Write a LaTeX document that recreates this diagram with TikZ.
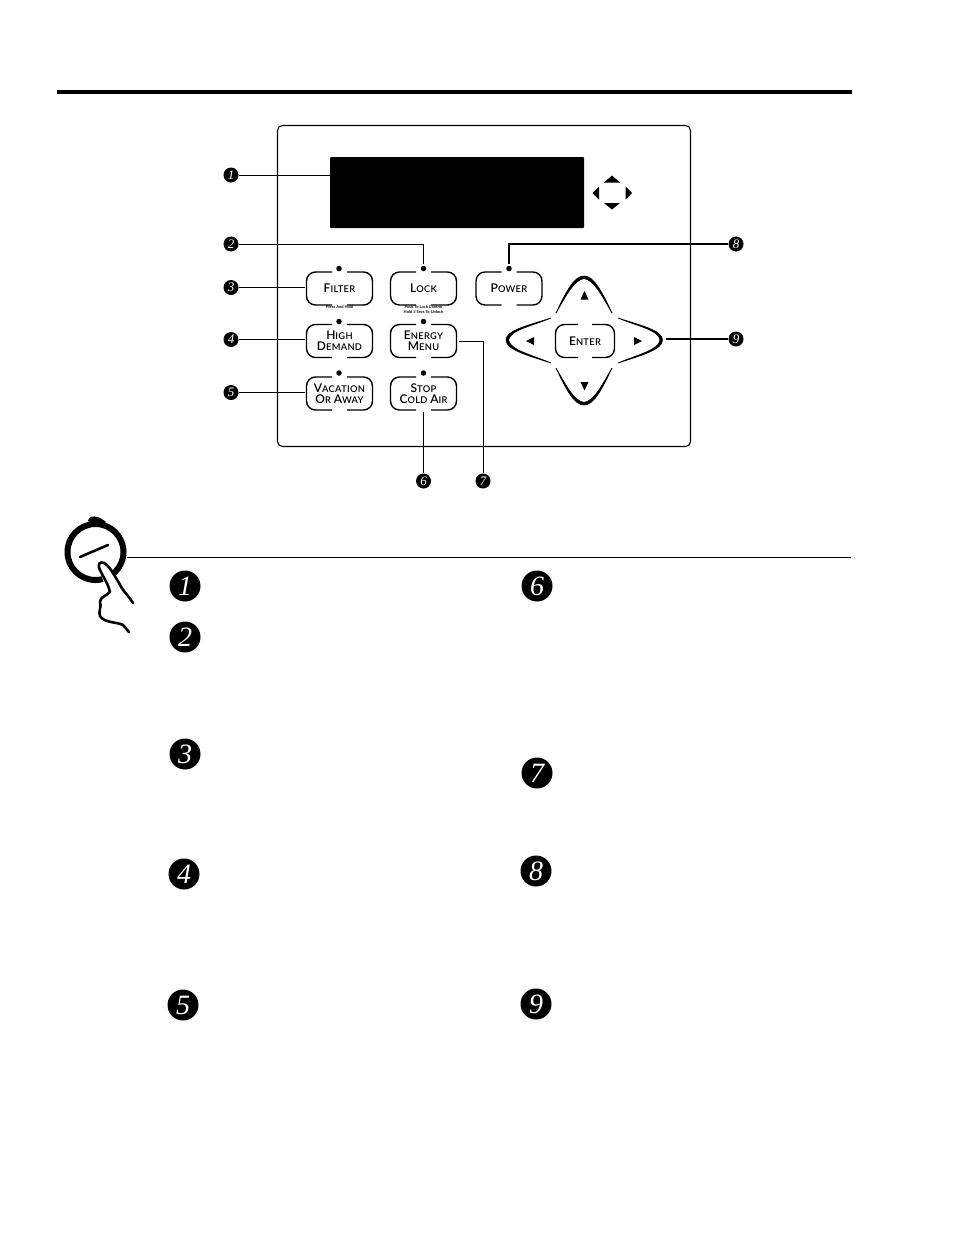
\documentclass[tikz,border=0pt]{standalone}
\usepackage{fontspec}
\setmainfont{Lato}
\newfontfamily\numfont{Liberation Serif}
\newfontfamily\btnfont[LetterSpace=3.5]{Lato Semibold}
\newcommand\bc[2]{{\btnfont\fontsize{12}{11}\selectfont #1}{\btnfont\fontsize{9.3}{11}\selectfont #2}}
\newcommand\btnframe[1]{%
  \begin{scope}[shift={(#1.center)}]
    \draw[framel] (-7.5,-16.5) -- (-33,-16.5) -- (-33,16.5) -- (-7.5,16.5);
    \draw[framel] (7.5,-16.5) -- (33,-16.5) -- (33,16.5) -- (7.5,16.5);
  \end{scope}}
\newcommand\tri[3]{\fill (#1) -- (#2) -- (#3) -- cycle;}
\tikzset{
  framel/.style={line width=1.4pt,rounded corners=9pt},
  btn/.style={minimum width=66pt,minimum height=33pt,inner sep=0pt,outer sep=2pt,align=center,font=\fontsize{11}{11.5}\selectfont},
  led/.style={circle,fill=black,minimum size=5.5pt,inner sep=0pt,outer sep=2pt},
  numsm/.style={circle,fill=black,text=white,minimum size=15pt,inner sep=0pt,font=\numfont\itshape\fontsize{13}{13}\selectfont},
  numbg/.style={circle,fill=black,text=white,minimum size=31pt,inner sep=0pt,font=\numfont\itshape\fontsize{28}{28}\selectfont},
  conn/.style={line width=1pt},
  connb/.style={line width=1.8pt},
  tiny/.style={inner sep=0pt,font=\bfseries\fontsize{4}{4.6}\selectfont,align=center},
}
\begin{document}
\begin{tikzpicture}[x=1pt,y=-1pt]
\useasboundingbox (0,0) rectangle (954,1235);
% header rule
\draw[line width=3.6pt] (57,92) -- (852,92);
% panel
\draw[line width=1.1pt,rounded corners=5pt] (277.5,125.5) rectangle (690.5,446.5);
% display
\node[fill=black,minimum width=254pt,minimum height=71pt,inner sep=0pt,rounded corners=1pt] (display) at (457,192.5) {};
\tri{612,175.5}{604,182.5}{620,182.5}
\tri{612,209.5}{604,203}{620,203}
\tri{592.5,193}{599,186.5}{599,199.5}
\tri{632,193}{625.5,186.5}{625.5,199.5}
% buttons
\node[btn] (filter) at (339.5,288.5) {\bc{F}{ILTER}};
\node[btn] (lock) at (423.5,288.5) {\bc{L}{OCK}};
\node[btn] (power) at (509,288.5) {\bc{P}{OWER}};
\node[btn] (high) at (339.5,341) {\bc{H}{IGH}\\[-0.5pt]\bc{D}{EMAND}};
\node[btn] (energy) at (423.5,341) {\bc{E}{NERGY}\\[-0.5pt]\bc{M}{ENU}};
\node[btn] (vacation) at (339.5,393.5) {\bc{V}{ACATION}\\[-0.5pt]\bc{O}{R} \bc{A}{WAY}};
\node[btn] (stop) at (423.5,393.5) {\bc{S}{TOP}\\[-0.5pt]\bc{C}{OLD} \bc{A}{IR}};
\node[btn,minimum width=60pt] (enter) at (585,341) {\bc{E}{NTER}};
\btnframe{filter}\btnframe{lock}\btnframe{power}\btnframe{high}\btnframe{energy}\btnframe{vacation}\btnframe{stop}
\begin{scope}[shift={(enter.center)}]
  \draw[framel] (-7,-16.5) -- (-29.5,-16.5) -- (-29.5,16.5) -- (-7,16.5);
  \draw[framel] (7,-16.5) -- (29.5,-16.5) -- (29.5,16.5) -- (7,16.5);
\end{scope}
% tiny captions
\node[tiny] (presshold) at (339.5,307.5) {Press And Hold};
\node[tiny] (pushlock) at (423.5,309.5) {Push To Lock Control\\Hold 3 Secs To Unlock};
% LEDs
\node[led] (ledfilter) at (339,268.5) {};
\node[led] (ledlock) at (423.5,268.5) {};
\node[led] (ledpower) at (509,268.5) {};
\node[led] (ledhigh) at (339,321.5) {};
\node[led] (ledenergy) at (423.5,321.5) {};
\node[led] (ledvac) at (339,373) {};
\node[led] (ledstop) at (423.5,373) {};
% D-pad petals
\filldraw[line width=0.7pt] (556,313) .. controls (566,292) and (574,276) .. (584,276) .. controls (594,276) and (602,292) .. (612,313) .. controls (601,294) and (594,280) .. (584,278.5) .. controls (574,280) and (567,294) .. (556,313) -- cycle;
\filldraw[line width=0.7pt] (556,368) .. controls (566,389) and (574,405) .. (584,405) .. controls (594,405) and (602,389) .. (612,368) .. controls (601,387) and (594,401) .. (584,402.5) .. controls (574,401) and (567,387) .. (556,368) -- cycle;
\filldraw[line width=0.7pt] (551,318) .. controls (530,325) and (506,330) .. (506,340) .. controls (506,350) and (530,356) .. (551,363) .. controls (532,355) and (510,350) .. (508.5,340) .. controls (510,330) and (532,326) .. (551,318) -- cycle;
\filldraw[line width=0.7pt] (618,318) .. controls (639,325) and (662.5,330) .. (662.5,340) .. controls (662.5,350) and (639,356) .. (618,363) .. controls (637,355) and (659,350) .. (660,340) .. controls (659,330) and (637,326) .. (618,318) -- cycle;
\tri{584.5,291}{580.5,299.5}{588.5,299.5}
\tri{584.5,390.5}{580.5,382}{588.5,382}
\tri{526,341}{534,337}{534,345}
\tri{642,341}{634,337}{634,345}
\coordinate (dpadtip) at (666,339);
% small numbers
\node[numsm] (n1) at (231,175) {1};
\node[numsm] (n2) at (231,244) {2};
\node[numsm] (n3) at (231,287.5) {3};
\node[numsm] (n4) at (231,339.5) {4};
\node[numsm] (n5) at (231,392.5) {5};
\node[numsm] (n6) at (423.5,481) {6};
\node[numsm] (n7) at (483,481) {7};
\node[numsm] (n8) at (736,244) {8};
\node[numsm] (n9) at (736,339) {9};
% connectors
\draw[conn] (n1) -- (n1 -| display.west);
\draw[conn] (n2) -| (ledlock.north);
\draw[conn] (n3) -- (n3 -| filter.west);
\draw[connb] (n4) -- (n4 -| high.west);
\draw[conn] (n5) -- (n5 -| vacation.west);
\draw[connb] (stop.south) -- (n6);
\draw[conn] (energy.east) -| (n7);
\draw[connb] (n8) -| (ledpower.north);
\draw[connb] (dpadtip) -- (n9);
% section rule
\coordinate (ruleend) at (851,557);
\coordinate (dialedge) at (127,557);
\draw[line width=0.8pt] (dialedge) -- (ruleend);
% finger icon
\draw[line width=6pt] (95.5,552) circle (28pt);
\fill (88,521) .. controls (89,514.5) and (98,515) .. (106,522) -- (100,526) -- cycle;
\draw[line width=2.6pt,line cap=round] (80,557) -- (108,545);
\filldraw[fill=white,draw=white,line width=1pt] (98,565) .. controls (100,560) and (106,561) .. (110,568) -- (125,590) -- (108,592) -- cycle;
\draw[line width=2.6pt,line cap=round,line join=round] (133,603) .. controls (128,595) and (122,590) .. (119,583) .. controls (114,575) and (109,565) .. (104,563) .. controls (100,561) and (97,564) .. (100,570) .. controls (103,577) and (108,583) .. (110,592) .. controls (106,596) and (100,597) .. (100,602) .. controls (102,606) and (98,612) .. (100,616) .. controls (104,623) and (118,622) .. (123,625) .. controls (126,627) and (126,630) .. (129,632);
% big numbers
\node[numbg] (b1) at (185,586) {1};
\node[numbg] (b2) at (185,637) {2};
\node[numbg] (b3) at (185,754) {3};
\node[numbg] (b4) at (184,874) {4};
\node[numbg] (b5) at (183,1005) {5};
\node[numbg] (b6) at (537,586) {6};
\node[numbg] (b7) at (537,773) {7};
\node[numbg] (b8) at (536,871) {8};
\node[numbg] (b9) at (536,1004) {9};
\end{tikzpicture}
\end{document}
